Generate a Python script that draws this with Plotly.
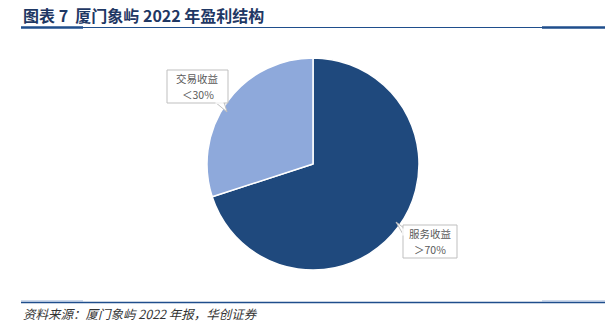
import plotly.graph_objects as go

labels = ["服务收益", "交易收益"]
values = [70, 30]
colors = ["#1F497D", "#8EA9DB"]
callout_names = ["服务收益", "交易收益"]
callout_shares = ["＞70%", "＜30%"]

W, H = 608, 327

def px(x):
    return x / W

def py(y):
    return 1 - y / H

fig = go.Figure()
fig.add_trace(go.Pie(
    labels=labels, values=values, sort=False, direction="clockwise", rotation=0,
    marker=dict(colors=colors, line=dict(color="white", width=1.5)),
    textinfo="none", hoverinfo="label+percent", showlegend=False,
    domain=dict(x=[px(207), px(419)], y=[py(270), py(58)]),
))

shapes = []
dark = "#1F4E8C"
light = "#9DB5D9"
# top rule
shapes.append(dict(type="line", xref="paper", yref="paper", x0=px(21), x1=px(605), y0=py(27.5), y1=py(27.5), line=dict(color=dark, width=1.2)))
shapes.append(dict(type="line", xref="paper", yref="paper", x0=px(21), x1=px(83), y0=py(27.5), y1=py(27.5), line=dict(color=dark, width=2.5)))
shapes.append(dict(type="line", xref="paper", yref="paper", x0=px(542), x1=px(605), y0=py(27.5), y1=py(27.5), line=dict(color=dark, width=2.5)))
# bottom rule
shapes.append(dict(type="line", xref="paper", yref="paper", x0=px(21), x1=px(605), y0=py(302.5), y1=py(302.5), line=dict(color=dark, width=1.5)))
shapes.append(dict(type="line", xref="paper", yref="paper", x0=px(21), x1=px(83), y0=py(301), y1=py(301), line=dict(color=light, width=1.2)))
shapes.append(dict(type="line", xref="paper", yref="paper", x0=px(542), x1=px(605), y0=py(301), y1=py(301), line=dict(color=light, width=1.2)))

border = "#BFBFBF"

def rect(x0, y0, x1, y1):
    return dict(type="rect", xref="paper", yref="paper", x0=px(x0), x1=px(x1), y0=py(y1), y1=py(y0),
                fillcolor="white", line=dict(color=border, width=1))

def tri(pts):
    d = "M " + " L ".join(f"{px(x)},{py(y)}" for x, y in pts) + " Z"
    return dict(type="path", xref="paper", yref="paper", path=d, fillcolor="white", line=dict(color=border, width=1))

# callout boxes and pointers
boxes = [(403, 225, 457, 258), (167, 70, 228, 103)]
shapes.append(tri([(215, 102), (224, 102), (227, 112)]))
shapes.append(tri([(404, 236), (404, 228), (396, 222)]))
for b in boxes:
    shapes.append(rect(*b))
shapes.append(dict(type="line", xref="paper", yref="paper", x0=px(215.5), x1=px(223.5), y0=py(103), y1=py(103), line=dict(color="white", width=1.5)))
shapes.append(dict(type="line", xref="paper", yref="paper", x0=px(403), x1=px(403), y0=py(228.5), y1=py(235.5), line=dict(color="white", width=1.5)))

annotations = [
    dict(text="<b>图表 7  厦门象屿 2022 年盈利结构</b>", x=px(21), y=py(15), xref="paper", yref="paper",
         xanchor="left", yanchor="middle", showarrow=False,
         font=dict(family="Noto Sans CJK SC", size=16, color="#1F3864")),
    dict(text="<i>资料来源：厦门象屿 2022 年报，华创证券</i>", x=px(21), y=py(313), xref="paper", yref="paper",
         xanchor="left", yanchor="middle", showarrow=False,
         font=dict(family="Noto Sans CJK SC", size=12.5, color="#333333")),
]
for (x0, y0, x1, y1), name, share in zip(boxes, callout_names, callout_shares):
    cx = (x0 + x1) / 2
    annotations.append(dict(text=name, x=px(cx), y=py(y0 + 8.5), xref="paper", yref="paper",
                            xanchor="center", yanchor="middle", showarrow=False, borderpad=0,
                            font=dict(family="Noto Sans CJK SC", size=10.5, color="#595959")))
    annotations.append(dict(text=share, x=px(cx), y=py(y0 + 24.5), xref="paper", yref="paper",
                            xanchor="center", yanchor="middle", showarrow=False, borderpad=0,
                            font=dict(family="Noto Sans CJK SC", size=10.5, color="#595959")))

fig.update_layout(
    width=W, height=H, margin=dict(l=0, r=0, t=0, b=0),
    paper_bgcolor="white", plot_bgcolor="white",
    shapes=shapes, annotations=annotations,
)
fig.write_html("out.html")
